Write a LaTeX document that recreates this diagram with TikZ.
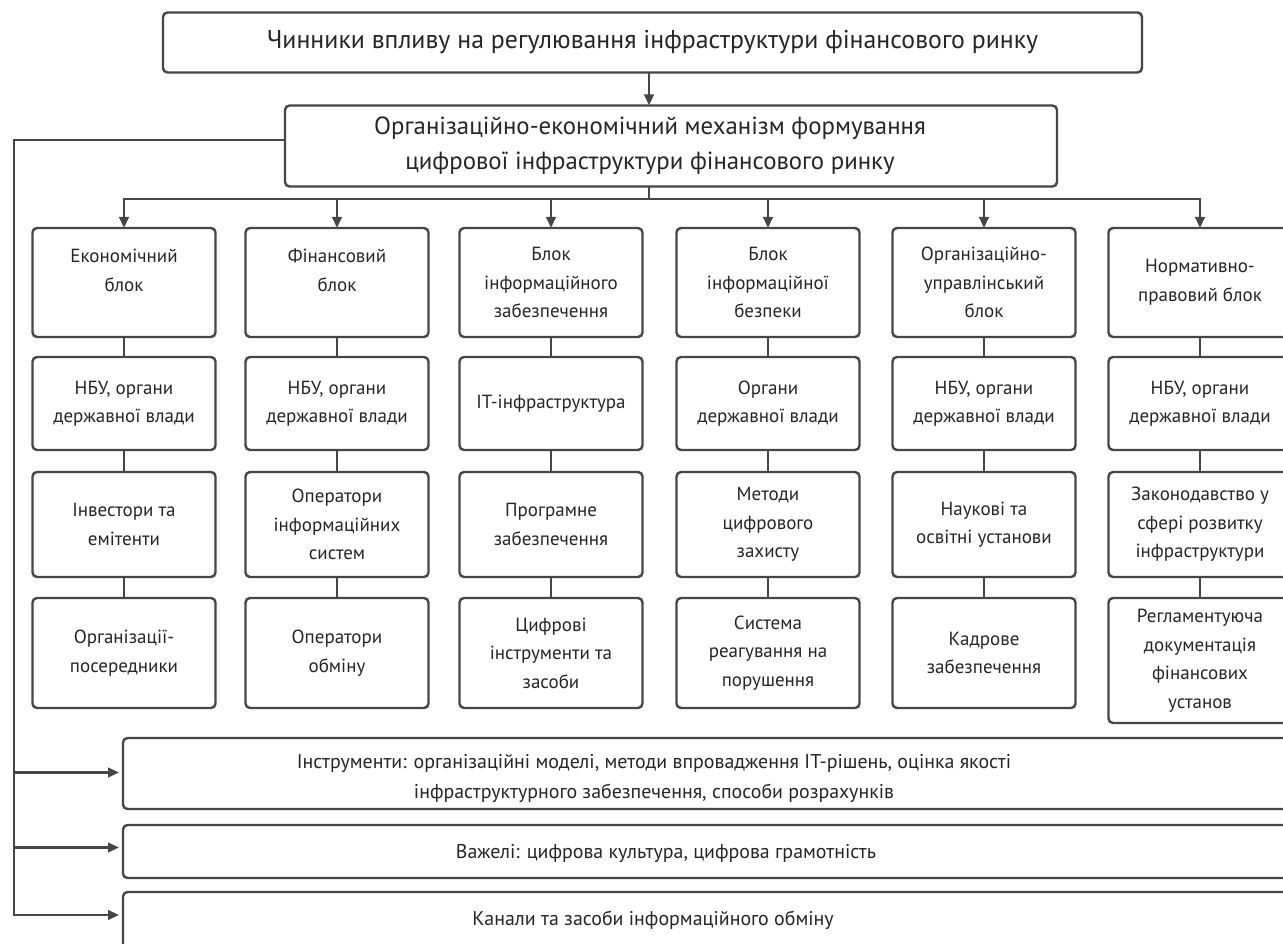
\documentclass[tikz,border=0pt]{standalone}
\usepackage{fontspec}
\setmainfont{PT Sans}
\usetikzlibrary{arrows.meta}
\definecolor{linec}{HTML}{464646}
\definecolor{textc}{HTML}{262626}
\begin{document}
\begin{tikzpicture}[x=1pt,y=-1pt,
  frame/.style={draw=linec, line width=2.4pt, rounded corners=4.5pt, inner sep=0pt, outer sep=0pt, text=textc, align=center},
  colbox/.style={frame, minimum width=183pt, font=\fontsize{19}{28.5}\selectfont},
  bigbox/.style={frame, minimum width=1177pt},
  plain/.style={text=textc, align=center, inner sep=0pt},
  conn/.style={draw=linec, line width=2.4pt},
  arr/.style={conn, -{Triangle[length=11pt,width=9.5pt]}}]
\fill[white] (0,0) rectangle (1283,944);
\useasboundingbox (0,0) rectangle (1283,944);
\clip (0,0) rectangle (1283,944);

% top boxes
\node[frame, minimum width=979pt, minimum height=60pt, font=\fontsize{25.8}{35}\selectfont] (top) at (652.5,42.5)
  {Чинники впливу на регулювання інфраструктури фінансового ринку};
\node[frame, minimum width=772pt, minimum height=81pt] (mech) at (671,146) {};
\node[plain, font=\fontsize{24.8}{35}\selectfont] (mechtxt) at (650,146)
  {Організаційно-економічний механізм формування\\цифрової інфраструктури фінансового ринку};

% column boxes
\node[colbox, minimum height=109pt] (c1r1) at (124,282.5) {Економічний\\блок\\[-4pt]\mbox{}};
\node[colbox, minimum height=109pt] (c2r1) at (337,282.5) {Фінансовий\\блок\\[-4pt]\mbox{}};
\node[colbox, minimum height=109pt] (c3r1) at (551,282.5) {Блок\\інформаційного\\забезпечення};
\node[colbox, minimum height=109pt] (c4r1) at (768,282.5) {Блок\\інформаційної\\безпеки};
\node[colbox, minimum height=109pt] (c5r1) at (984,282.5) {Організаційно-\\управлінський\\блок};
\node[colbox, minimum height=109pt] (c6r1) at (1200,282.5) {Нормативно-\\правовий блок};

\node[colbox, minimum height=93pt] (c1r2) at (124,403.5) {НБУ, органи\\державної влади};
\node[colbox, minimum height=93pt] (c2r2) at (337,403.5) {НБУ, органи\\державної влади};
\node[colbox, minimum height=93pt] (c3r2) at (551,403.5) {IT-інфраструктура};
\node[colbox, minimum height=93pt] (c4r2) at (768,403.5) {Органи\\державної влади};
\node[colbox, minimum height=93pt] (c5r2) at (984,403.5) {НБУ, органи\\державної влади};
\node[colbox, minimum height=93pt] (c6r2) at (1200,403.5) {НБУ, органи\\державної влади};

\node[colbox, minimum height=105pt] (c1r3) at (124,524.5) {Інвестори та\\емітенти};
\node[colbox, minimum height=105pt] (c2r3) at (337,524.5) {Оператори\\інформаційних\\систем};
\node[colbox, minimum height=105pt] (c3r3) at (551,524.5) {Програмне\\забезпечення};
\node[colbox, minimum height=105pt] (c4r3) at (768,524.5) {Методи\\цифрового\\захисту};
\node[colbox, minimum height=105pt] (c5r3) at (984,524.5) {Наукові та\\освітні установи};
\node[colbox, minimum height=105pt] (c6r3) at (1200,524.5) {Законодавство у\\сфері розвитку\\інфраструктури};

\node[colbox, minimum height=110pt] (c1r4) at (124,653) {Організації-\\посередники};
\node[colbox, minimum height=110pt] (c2r4) at (337,653) {Оператори\\обміну};
\node[colbox, minimum height=110pt] (c3r4) at (551,653) {Цифрові\\інструменти та\\засоби};
\node[colbox, minimum height=110pt] (c4r4) at (768,653) {Система\\реагування на\\порушення};
\node[colbox, minimum height=110pt] (c5r4) at (984,653) {Кадрове\\забезпечення};
\node[colbox, minimum height=125pt] (c6r4) at (1200,660.5) {Регламентуюча\\документація\\фінансових\\установ};

% bottom boxes
\node[bigbox, minimum height=71pt] (instr) at (711.5,773.5) {};
\node[plain, font=\fontsize{19.9}{30}\selectfont] (instrtxt) at (654,778)
  {Інструменти: організаційні моделі, методи впровадження IT-рішень, оцінка якості\\інфраструктурного забезпечення, способи розрахунків};
\node[bigbox, minimum height=53pt] (lev) at (711.5,851.5) {};
\node[plain, font=\fontsize{19.9}{30}\selectfont] (levtxt) at (666,853)
  {Важелі: цифрова культура, цифрова грамотність};
\node[bigbox, minimum height=58pt] (chan) at (711.5,921) {};
\node[plain, font=\fontsize{19.9}{30}\selectfont] (chantxt) at (653,920)
  {Канали та засоби інформаційного обміну};

% connectors
\coordinate (bus) at (649,199);
\coordinate (lft) at (14,0);
\draw[arr] ([xshift=-3.5pt]top.south) -- ([xshift=-3.5pt]top.south |- mech.north);
\draw[conn] (mech.south -| bus) -- (bus);
\draw[conn, line cap=rect] (c1r1.north |- bus) -- (c6r1.north |- bus);
\foreach \i in {1,...,6}{
  \draw[arr] (c\i r1.north |- bus) -- (c\i r1.north);
  \draw[conn] (c\i r1.south) -- (c\i r2.north);
  \draw[conn] (c\i r2.south) -- (c\i r3.north);
  \draw[conn] (c\i r3.south) -- (c\i r4.north);
}
\draw[arr, shorten >=4pt] ([yshift=6pt]mech.west) -| ([yshift=6pt]chan.west -| lft) -- ([yshift=6pt]chan.west);
\draw[arr, shorten >=4pt] ([yshift=1pt]instr.west -| lft) -- ([yshift=1pt]instr.west);
\draw[arr, shorten >=4pt] ([yshift=4pt]lev.west -| lft) -- ([yshift=4pt]lev.west);
\end{tikzpicture}
\end{document}
